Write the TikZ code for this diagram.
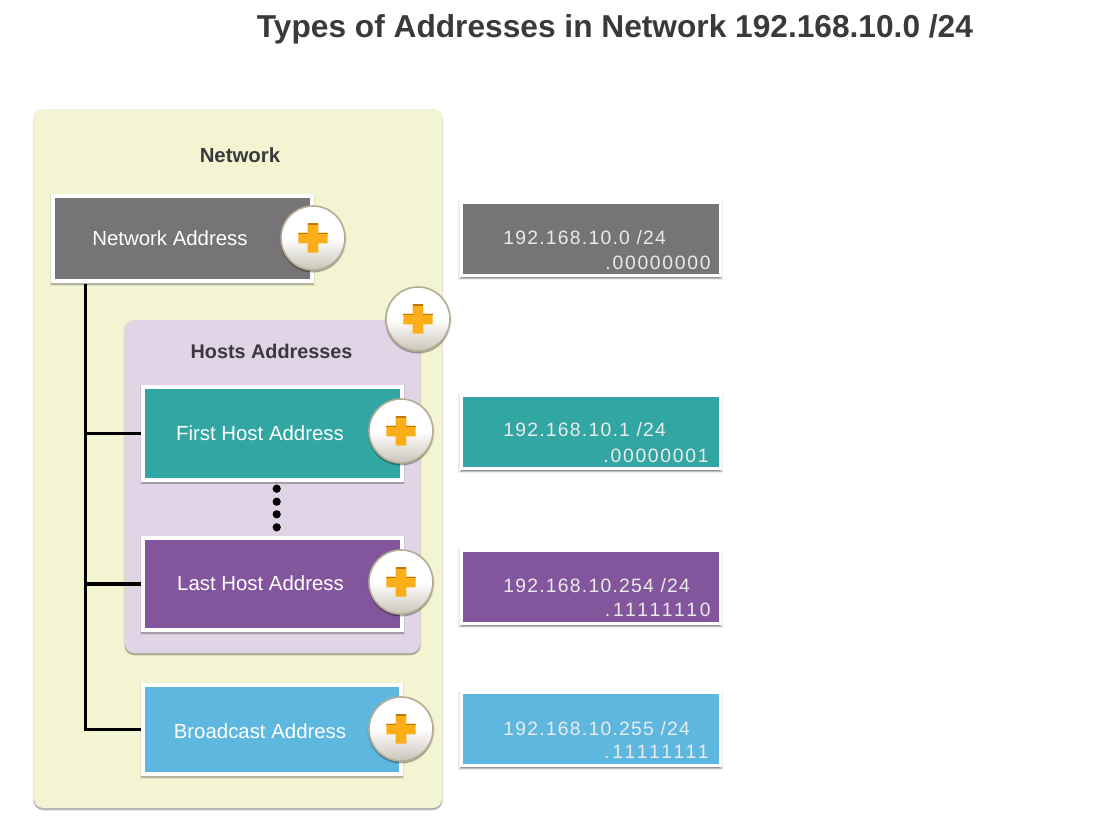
\documentclass[tikz,border=0pt]{standalone}
\usepackage{fontspec}
\setmainfont{Liberation Sans}
\usetikzlibrary{shadows}
\definecolor{panelY}{HTML}{F3F4D2}
\definecolor{panelP}{HTML}{E0D4E6}
\definecolor{cGray}{HTML}{767476}
\definecolor{cTeal}{HTML}{32A6A3}
\definecolor{cPurple}{HTML}{83559C}
\definecolor{cBlue}{HTML}{5DB7DF}
\definecolor{cOrange}{HTML}{FBAE17}
\definecolor{cOrangeDk}{HTML}{B97A10}
\definecolor{ink}{HTML}{3A3A3C}
\definecolor{btnEdge}{HTML}{B5AE94}
\definecolor{btnGrey}{HTML}{C9C5BA}
\tikzset{
  x=0.75pt,y=-0.75pt,
  softShadow/.style={
    general shadow={shadow xshift=0pt,shadow yshift=-0.9pt,opacity=.07,fill=black,draw=black,line width=#1+2pt},
    general shadow={shadow xshift=0pt,shadow yshift=-1.5pt,opacity=.2,fill=black,draw=black,line width=#1}},
  panel/.style={rounded corners=7pt,inner sep=0pt,softShadow=0.1pt},
  frameBox/.style={fill=#1,draw=white,line width=3pt,inner sep=0pt,softShadow=3pt},
  addrBox/.style={fill=#1,draw=white,line width=2.25pt,inner sep=0pt,minimum width=194.25pt,minimum height=54.75pt,softShadow=2.25pt},
  heading/.style={font=\bfseries\fontsize{15.3}{17}\selectfont,text=ink,inner sep=0pt},
  boxLabel/.style={font=\fontsize{15.3}{17}\selectfont,text=white,inner sep=0pt},
  addrText/.style={font=\fontsize{14.5}{16}\selectfont\addfontfeature{LetterSpace=6.5},text=white!92!black,inner sep=0pt},
  addrZeros/.style={font=\fontsize{14.5}{16}\selectfont\addfontfeature{LetterSpace=9},text=white!92!black,inner sep=0pt},
  addrOnes/.style={font=\fontsize{14.5}{16}\selectfont\addfontfeature{LetterSpace=15},text=white!92!black,inner sep=0pt},
  connector/.style={line width=2.5pt,black},
  plusBtn/.style={circle,minimum size=48pt,inner sep=0pt,draw=btnEdge,line width=1.2pt,top color=white,bottom color=btnGrey,middle color=white,
    softShadow=0.5pt,
    path picture={
      \fill[cOrange] ([xshift=-11pt,yshift=-4pt]path picture bounding box.center) -- ++(7pt,0) -- ++(0,-7pt) -- ++(8pt,0) -- ++(0,7pt) -- ++(7pt,0) -- ++(0,8pt) -- ++(-7pt,0) -- ++(0,7pt) -- ++(-8pt,0) -- ++(0,-7pt) -- ++(-7pt,0) -- cycle;
      \fill[cOrangeDk] ([xshift=-4pt,yshift=11pt]path picture bounding box.center) rectangle ++(8pt,-1.5pt);
      \fill[cOrangeDk] ([xshift=-11pt,yshift=4pt]path picture bounding box.center) rectangle ++(7pt,-.8pt);
      \fill[cOrangeDk] ([xshift=4pt,yshift=4pt]path picture bounding box.center) rectangle ++(7pt,-.8pt);
    }},
  dotMark/.style={fill=black,circle,inner sep=0pt,minimum size=6.2pt}
}
\begin{document}
\begin{tikzpicture}
\useasboundingbox (0,0) rectangle (1101,826);
\fill[white] (0,0) rectangle (1101,826);
% panels
\node[panel,fill=panelY,minimum width=306pt,minimum height=524.25pt] (net) at (238,458.5) {};
\node[panel,fill=panelP,minimum width=221.25pt,minimum height=249.75pt] (hosts) at (272.5,486.5) {};
% headings
\node[font=\bfseries\fontsize{23.76}{26}\selectfont,text=ink,inner sep=0pt] (title) at (615,29) {Types of Addresses in Network 192.168.10.0 /24};
\node[heading] (netT) at (240,155) {Network};
\node[heading,font=\bfseries\fontsize{14.85}{17}\selectfont] (hostT) at (271.5,351) {Hosts Addresses};
\coordinate (trunk) at (85.5,284);
% left boxes
\node[frameBox=cGray,minimum width=193.9pt,minimum height=64pt] (na) at (182.75,238.75) {};
\node[frameBox=cTeal,minimum width=194.25pt,minimum height=69.4pt] (first) at (272.5,433.25) {};
\node[frameBox=cPurple,minimum width=194.25pt,minimum height=69pt] (last) at (272.5,584) {};
\node[frameBox=cBlue,minimum width=193.5pt,minimum height=66.75pt] (bc) at (272,729.5) {};
\node[boxLabel] at (170,238.5) {Network Address};
\node[boxLabel] at (260,433.5) {First Host Address};
\node[boxLabel] at (260.5,583.5) {Last Host Address};
\node[boxLabel] at (260,731.5) {Broadcast Address};
\draw[connector] (trunk) -- (trunk |- bc.west) -- (bc.west);
\draw[connector] (trunk |- first.west) -- (first.west);
\draw[connector] (trunk |- last.west) -- (last.west);
% dots
\node[dotMark] at (276.7,488.7) {};
\node[dotMark] at (276.7,501.7) {};
\node[dotMark] at (276.7,514.3) {};
\node[dotMark] at (276.7,527.3) {};
% buttons
\node[plusBtn] (b1) at (313,238) {};
\node[plusBtn] (b2) at (418,319) {};
\node[plusBtn] (b3) at (401,431) {};
\node[plusBtn] (b4) at (401,582) {};
\node[plusBtn] (b5) at (401,729) {};
% right boxes
\node[addrBox=cGray] (r1) at (590.5,239) {};
\node[addrBox=cTeal] (r2) at (590.5,432) {};
\node[addrBox=cPurple] (r3) at (590.5,587) {};
\node[addrBox=cBlue] (r4) at (590.5,729) {};
\node[addrText,anchor=west] at (503,238) {192.168.10.0 /24};
\node[addrZeros,anchor=east] at (711,263) {.00000000};
\node[addrText,anchor=west] at (503,430) {192.168.10.1 /24};
\node[addrZeros,anchor=east] at (709,456) {.00000001};
\node[addrText,anchor=west] at (503,586) {192.168.10.254 /24};
\node[addrOnes,anchor=east] at (711,610) {.11111110};
\node[addrText,anchor=west] at (503,729) {192.168.10.255 /24};
\node[addrOnes,anchor=east] at (709,752) {.11111111};
\end{tikzpicture}
\end{document}
